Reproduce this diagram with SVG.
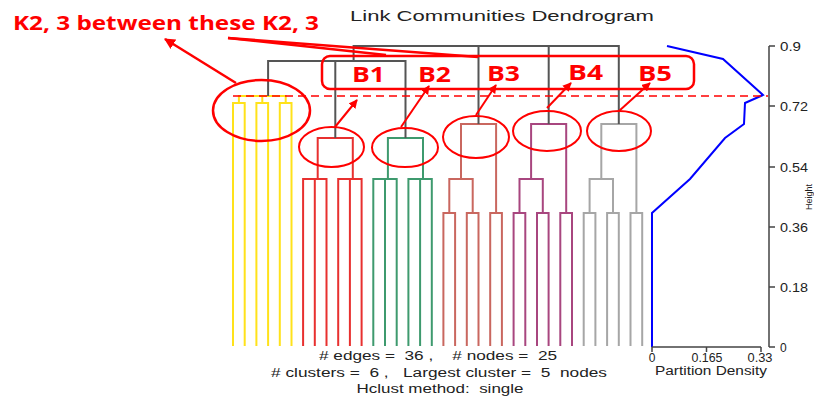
<svg xmlns="http://www.w3.org/2000/svg" width="814" height="398" viewBox="0 0 814 398">
<style>
.t{font-family:"Liberation Sans",Arial,sans-serif;fill:#222;}
.ann{font-family:"Open Sans","Liberation Sans",sans-serif;font-weight:700;fill:#ff0000;}
.d{fill:none;stroke-width:2;}
.blk{fill:none;stroke:#555;stroke-width:2;}
.ax{fill:none;stroke:#444;stroke-width:1.5;}
.rl{fill:none;stroke:#ff0000;stroke-width:2.5;}
.re{fill:none;stroke:#ff0000;stroke-width:2;}
</style>
<defs>
<marker id="ah" viewBox="0 0 10 10" refX="9" refY="5" markerWidth="4.4" markerHeight="4.4" orient="auto" markerUnits="strokeWidth">
<path d="M0,0L10,5L0,10z" fill="#ff0000"/>
</marker>
</defs>
<rect width="814" height="398" fill="#fff"/>
<text class="t" x="502" y="21" font-size="14" text-anchor="middle" textLength="304" lengthAdjust="spacingAndGlyphs">Link Communities Dendrogram</text>

<g id="cluster-yellow">
<path class="d" stroke="#FFE21A" d="M233,346V103H244.7V346M256.4,346V103H268.1V346M279.8,346V103H291.5V346M238.9,103V96H285.7V103M262.3,103V96"/>
</g>
<g id="cluster-red">
<path class="d" stroke="#E8302F" d="M303.1,346V179H326.5V346M314.8,346V179M338.2,346V179H361.6V346M349.9,346V179M317.7,179V138H352.8V179"/>
</g>
<g id="cluster-green">
<path class="d" stroke="#3E9A6E" d="M373.3,346V179H396.7V346M385,346V179M408.4,346V179H431.8V346M420.1,346V179M387.9,179V138H423V179"/>
</g>
<g id="cluster-brown">
<path class="d" stroke="#C9675F" d="M443.4,346V213H455.1V346M466.8,346V213H478.5V346M490.2,346V213H501.9V346M449.3,213V179H472.7V213M461,179V124H496.1V213"/>
</g>
<g id="cluster-purple">
<path class="d" stroke="#A8467F" d="M513.6,346V213H525.3V346M537,346V213H548.6V346M560.3,346V213H572V346M519.5,213V179H542.8V213M531.1,179V124H566.2V213"/>
</g>
<g id="cluster-gray">
<path class="d" stroke="#A6A6A6" d="M583.7,346V213H595.4V346M607.1,346V213H618.8V346M630.5,346V213H642.2V346M589.6,213V179H613V213M601.3,179V124H636.4V213"/>
</g>

<g id="connectors">
<path class="blk" d="M268.1,96V61H405.5V138M335.3,138V61M353.6,61V46H618.8V124M478.5,124V46M548.7,124V46"/>
</g>

<g id="partition-density">
<polyline fill="none" stroke="#0000ff" stroke-width="2" points="667,46 723,59 763,95 745,103 744,124 725,138 690,179 652,213 652,347"/>
<path class="ax" d="M652,347H761M652,347V352M706.5,347V352M761,347V352"/>
<text class="t" x="652" y="362" font-size="12" text-anchor="middle">0</text>
<text class="t" x="707" y="362" font-size="12" text-anchor="middle" textLength="31" lengthAdjust="spacingAndGlyphs">0.165</text>
<text class="t" x="760" y="362" font-size="12" text-anchor="middle" textLength="25" lengthAdjust="spacingAndGlyphs">0.33</text>
<text class="t" x="711" y="375" font-size="12" text-anchor="middle" textLength="112" lengthAdjust="spacingAndGlyphs">Partition Density</text>
</g>

<g id="height-axis">
<path class="ax" d="M769,46V347M769,46H775M769,106H775M769,167H775M769,227H775M769,287H775M769,347H775"/>
<text class="t" x="780" y="51" font-size="12" textLength="21" lengthAdjust="spacingAndGlyphs">0.9</text>
<text class="t" x="780" y="111" font-size="12" textLength="28" lengthAdjust="spacingAndGlyphs">0.72</text>
<text class="t" x="780" y="172" font-size="12" textLength="28" lengthAdjust="spacingAndGlyphs">0.54</text>
<text class="t" x="780" y="232" font-size="12" textLength="28" lengthAdjust="spacingAndGlyphs">0.36</text>
<text class="t" x="780" y="292" font-size="12" textLength="28" lengthAdjust="spacingAndGlyphs">0.18</text>
<text class="t" x="780" y="352" font-size="12">0</text>
<text class="t" x="0" y="0" font-size="9" text-anchor="middle" transform="translate(812,197) rotate(-90)">Height</text>
</g>

<g id="stats">
<text class="t" x="438" y="360" font-size="12.5" text-anchor="middle" textLength="238" lengthAdjust="spacingAndGlyphs" xml:space="preserve"># edges =  36 ,    # nodes =  25</text>
<text class="t" x="439" y="377" font-size="12.5" text-anchor="middle" textLength="336" lengthAdjust="spacingAndGlyphs" xml:space="preserve"># clusters =  6 ,   Largest cluster =  5  nodes</text>
<text class="t" x="440" y="393" font-size="12.5" text-anchor="middle" textLength="167" lengthAdjust="spacingAndGlyphs" xml:space="preserve">Hclust method:  single</text>
</g>

<g id="annotations">
<line x1="233" y1="96" x2="768" y2="96" stroke="#ff0000" stroke-width="1.5" stroke-dasharray="8,5"/>
<text class="ann" x="13" y="30" font-size="20" textLength="306" lengthAdjust="spacingAndGlyphs">K2, 3 between these K2, 3</text>
<ellipse class="rl" cx="261.5" cy="110.5" rx="48.5" ry="30.5" stroke-width="3.5"/>
<line class="rl" x1="236" y1="83" x2="165" y2="39" marker-end="url(#ah)"/>
<line class="rl" x1="228" y1="38" x2="386" y2="55"/>
<line class="rl" x1="228" y1="38" x2="478" y2="57"/>
<rect class="rl" x="322" y="56" width="372" height="33" rx="8" stroke-width="3"/>
<text class="ann" x="352" y="82" font-size="21" textLength="33" lengthAdjust="spacingAndGlyphs">B1</text>
<text class="ann" x="418" y="82" font-size="21" textLength="33" lengthAdjust="spacingAndGlyphs">B2</text>
<text class="ann" x="487" y="81" font-size="21" textLength="33" lengthAdjust="spacingAndGlyphs">B3</text>
<text class="ann" x="568" y="80" font-size="21" textLength="35" lengthAdjust="spacingAndGlyphs">B4</text>
<text class="ann" x="638" y="81" font-size="21" textLength="34" lengthAdjust="spacingAndGlyphs">B5</text>
<ellipse class="re" cx="331.5" cy="147" rx="32.5" ry="20"/>
<ellipse class="re" cx="405" cy="147.5" rx="33" ry="19.5"/>
<ellipse class="re" cx="476" cy="137" rx="33" ry="21"/>
<ellipse class="re" cx="547" cy="131" rx="34" ry="20"/>
<ellipse class="re" cx="619" cy="131" rx="32" ry="20"/>
<line class="re" x1="335" y1="127" x2="357" y2="100" marker-end="url(#ah)" stroke-width="2.5"/>
<line class="re" x1="401" y1="127" x2="429" y2="86" marker-end="url(#ah)" stroke-width="2.5"/>
<line class="re" x1="476" y1="115" x2="496" y2="85" marker-end="url(#ah)" stroke-width="2.5"/>
<line class="re" x1="547" y1="108" x2="571" y2="83" marker-end="url(#ah)" stroke-width="2.5"/>
<line class="re" x1="619" y1="111" x2="650" y2="83" marker-end="url(#ah)" stroke-width="2.5"/>
</g>
</svg>
